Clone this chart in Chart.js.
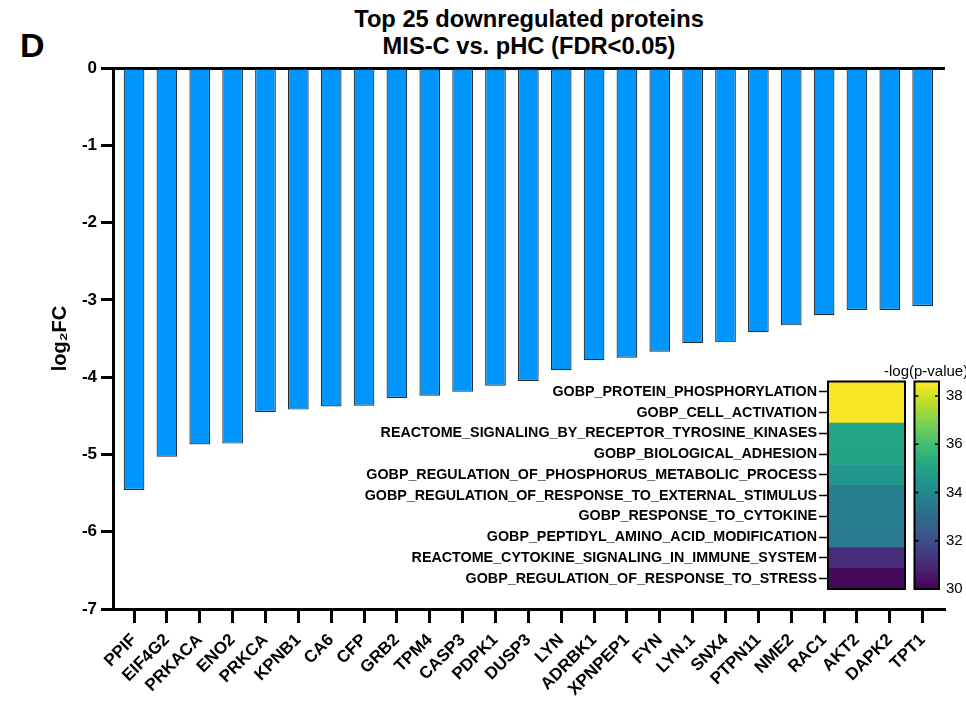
<!DOCTYPE html>
<html>
<head>
<meta charset="utf-8">
<script src="https://cdn.jsdelivr.net/npm/chart.js@4.4.1/dist/chart.umd.min.js"></script>
<style>
  html,body{margin:0;padding:0;background:#fff;}
  body{width:966px;height:720px;position:relative;overflow:hidden;font-family:"Liberation Sans",Arial,sans-serif;}
  #panel{position:absolute;left:20px;top:28px;font-weight:bold;font-size:34px;line-height:34px;color:#000;}
  #title{position:absolute;left:229px;width:600px;top:6px;text-align:center;font-weight:bold;font-size:23.7px;line-height:27px;color:#000;}
  #cblabel{position:absolute;left:884px;top:363px;font-size:15px;line-height:15px;color:#000;white-space:nowrap;}
  #main{position:absolute;left:0;top:0;}
  #inset{position:absolute;left:350px;top:360px;}
</style>
</head>
<body>
<div id="panel">D</div>
<div id="title">Top 25 downregulated proteins<br>MIS-C vs. pHC (FDR&lt;0.05)</div>
<canvas id="main" width="966" height="720"></canvas>
<canvas id="inset" width="616" height="245"></canvas>
<div id="cblabel">-log(p-value)</div>
<script>
// ---------- data ----------
const categories = ["PPIF","EIF4G2","PRKACA","ENO2","PRKCA","KPNB1","CA6","CFP","GRB2","TPM4",
  "CASP3","PDPK1","DUSP3","LYN","ADRBK1","XPNPEP1","FYN","LYN.1","SNX4","PTPN11",
  "NME2","RAC1","AKT2","DAPK2","TPT1"];
const log2FC = [-5.46,-5.03,-4.87,-4.86,-4.45,-4.42,-4.38,-4.37,-4.27,-4.24,
  -4.19,-4.11,-4.05,-3.91,-3.78,-3.75,-3.67,-3.56,-3.55,-3.42,
  -3.33,-3.20,-3.13,-3.13,-3.08];
const yTickValues = [0,-1,-2,-3,-4,-5,-6,-7];

const terms = ["GOBP_PROTEIN_PHOSPHORYLATION","GOBP_CELL_ACTIVATION",
  "REACTOME_SIGNALING_BY_RECEPTOR_TYROSINE_KINASES","GOBP_BIOLOGICAL_ADHESION",
  "GOBP_REGULATION_OF_PHOSPHORUS_METABOLIC_PROCESS","GOBP_REGULATION_OF_RESPONSE_TO_EXTERNAL_STIMULUS",
  "GOBP_RESPONSE_TO_CYTOKINE","GOBP_PEPTIDYL_AMINO_ACID_MODIFICATION",
  "REACTOME_CYTOKINE_SIGNALING_IN_IMMUNE_SYSTEM","GOBP_REGULATION_OF_RESPONSE_TO_STRESS"];
const termNegLogP = [38.5,38.5,35.1,35.0,34.5,33.6,33.6,33.5,31.1,30.2];
const colorbarTicks = [30,32,34,36,38];
const colorbarRange = [30,38.6];

// ---------- helpers ----------
const FONT = '"Liberation Sans", Arial, sans-serif';
const viridisStops = ["#440154","#482475","#414487","#355f8d","#2a788e","#21918c","#22a884","#44bf70","#7ad151","#bddf26","#fde725"];
function hex2rgb(h){return [parseInt(h.substr(1,2),16),parseInt(h.substr(3,2),16),parseInt(h.substr(5,2),16)];}
function viridis(t){
  t=Math.max(0,Math.min(1,t));
  const p=t*(viridisStops.length-1), i=Math.min(Math.floor(p),viridisStops.length-2), f=p-i;
  const a=hex2rgb(viridisStops[i]), b=hex2rgb(viridisStops[i+1]);
  return 'rgb('+a.map((v,k)=>Math.round(v+(b[k]-v)*f)).join(',')+')';
}
function valColor(v){return viridis((v-colorbarRange[0])/(colorbarRange[1]-colorbarRange[0]));}

// ---------- main bar chart ----------
new Chart(document.getElementById('main'), {
  type:'bar',
  data:{datasets:[{
    data: log2FC.map((v,i)=>({x:i,y:v})),
    backgroundColor:'#0096ff',
    borderColor:'#2b2b2b',
    borderWidth:1.2,
    barPercentage:0.63,
    categoryPercentage:1
  }]},
  options:{
    responsive:false, animation:false,
    layout:{padding:{top:68,left:44,right:21,bottom:0}},
    plugins:{legend:{display:false},tooltip:{enabled:false},title:{display:false}},
    scales:{
      x:{
        type:'linear', min:-0.64, max:24.68, offset:false,
        afterBuildTicks(s){ s.ticks = categories.map((c,i)=>({value:i})); },
        afterFit(s){ s.height = 111; },
        ticks:{autoSkip:false, minRotation:45, maxRotation:45, padding:7,
          color:'#000', font:{family:FONT, size:17, weight:'bold'},
          callback:(v)=>categories[v]},
        grid:{drawOnChartArea:false, offset:false, color:'#000', tickColor:'#000', tickLength:14, tickWidth:3},
        border:{color:'#000', width:3}
      },
      y:{
        type:'linear', min:-7, max:0,
        afterBuildTicks(s){ s.ticks = yTickValues.map(v=>({value:v})); },
        afterFit(s){ s.width = 69; },
        ticks:{color:'#000', padding:4, font:{family:FONT, size:17, weight:'bold'}},
        grid:{drawOnChartArea:true,
          color:(c)=> (c.tick && c.tick.value===0) ? '#000' : 'rgba(0,0,0,0)',
          lineWidth:3, tickColor:'#000', tickLength:12, tickWidth:3},
        border:{color:'#000', width:3},
        title:{display:true, text:'log\u2082FC', color:'#000', padding:{top:4,bottom:4},
          font:{family:FONT, size:20, weight:'bold'}}
      }
    }
  }
});

// ---------- inset heatmap + colorbar ----------
const heatPlugin = {
  id:'heat',
  afterDatasetsDraw(chart){
    const ctx=chart.ctx, x=chart.scales.x, y2=chart.scales.y2, a=chart.chartArea;
    const hx0=x.getPixelForValue(0), hx1=x.getPixelForValue(1);
    const cx0=x.getPixelForValue(1.123), cx1=x.getPixelForValue(x.max);
    ctx.save();
    for(let py=Math.floor(a.top); py<Math.ceil(a.bottom); py++){
      const v=y2.getValueForPixel(py+0.5);
      ctx.fillStyle=valColor(v);
      ctx.fillRect(cx0, py, cx1-cx0, 1);
    }
    ctx.strokeStyle='#000'; ctx.lineWidth=2;
    ctx.strokeRect(hx0, a.top, hx1-hx0, a.bottom-a.top);
    ctx.strokeRect(cx0, a.top, cx1-cx0, a.bottom-a.top);
    ctx.lineWidth=1.5;
    colorbarTicks.forEach(v=>{
      const py=y2.getPixelForValue(v);
      ctx.beginPath();
      ctx.moveTo(cx0, py); ctx.lineTo(cx0+4, py);
      ctx.moveTo(cx1-4, py); ctx.lineTo(cx1, py);
      ctx.stroke();
    });
    ctx.restore();
  }
};

new Chart(document.getElementById('inset'), {
  type:'bar',
  data:{labels:terms, datasets:[{
    data: terms.map(()=>[0,1]),
    backgroundColor: termNegLogP.map(valColor),
    borderWidth:0, barPercentage:1, categoryPercentage:1
  }]},
  options:{
    indexAxis:'y', responsive:false, animation:false,
    layout:{padding:{top:21.5,bottom:15,left:0,right:0}},
    plugins:{legend:{display:false},tooltip:{enabled:false}},
    scales:{
      x:{type:'linear', min:0, max:111/77, display:false},
      y:{type:'category', position:'left',
        afterFit(s){ s.width = 478; },
        ticks:{autoSkip:false, color:'#000', padding:2, font:{family:FONT, size:14.3, weight:'bold'}},
        grid:{drawOnChartArea:false, offset:false, color:'#000', tickColor:'#000', tickLength:9, tickWidth:1.5},
        border:{display:false}
      },
      y2:{type:'linear', position:'right', min:colorbarRange[0], max:colorbarRange[1], offset:false,
        afterBuildTicks(s){ s.ticks = colorbarTicks.map(v=>({value:v})); },
        afterFit(s){ s.width = 27; },
        ticks:{color:'#000', padding:7, font:{family:FONT, size:15}},
        grid:{display:false, drawTicks:false, offset:false},
        border:{display:false}
      }
    }
  },
  plugins:[heatPlugin]
});
</script>
</body>
</html>
